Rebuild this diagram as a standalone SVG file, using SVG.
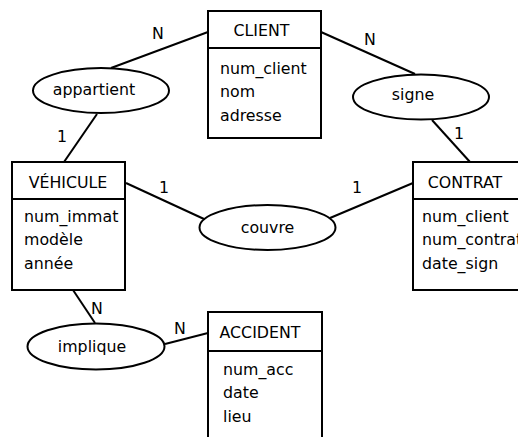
<svg xmlns="http://www.w3.org/2000/svg" width="518" height="437" viewBox="0 0 518 437">
  <style>
    text { font-family: "DejaVu Sans", "Liberation Sans", sans-serif; font-size: 15.8px; fill: #000; }
    .title { text-anchor: middle; }
    .card { text-anchor: middle; }
    .box { fill: #fff; stroke: #000; stroke-width: 2; }
    .rel { fill: #fff; stroke: #000; stroke-width: 2; }
    .link { stroke: #000; stroke-width: 2; fill: none; }
  </style>
  <rect width="518" height="437" fill="#fff"/>

  <!-- connectors -->
  <g id="connectors">
    <line class="link" x1="208" y1="32" x2="111" y2="68"/>
    <line class="link" x1="97" y1="114" x2="64" y2="162"/>
    <line class="link" x1="321" y1="32" x2="415" y2="74"/>
    <line class="link" x1="432" y1="120" x2="470" y2="162"/>
    <line class="link" x1="126" y1="183" x2="204" y2="219"/>
    <line class="link" x1="330" y1="218" x2="413" y2="183"/>
    <line class="link" x1="73" y1="290" x2="95" y2="323"/>
    <line class="link" x1="165" y1="344" x2="208" y2="333"/>
    <text class="card" x="158" y="39">N</text>
    <text class="card" x="62" y="142">1</text>
    <text class="card" x="370" y="45">N</text>
    <text class="card" x="459" y="139">1</text>
    <text class="card" x="164" y="193">1</text>
    <text class="card" x="357" y="193">1</text>
    <text class="card" x="97" y="314">N</text>
    <text class="card" x="180" y="334">N</text>
  </g>

  <!-- entities -->
  <g id="client">
    <rect class="box" x="208" y="11" width="113" height="127"/>
    <line class="link" x1="208" y1="48" x2="321" y2="48"/>
    <text class="title" x="261.5" y="36">CLIENT</text>
    <text x="220" y="74">num_client</text>
    <text x="220" y="97">nom</text>
    <text x="220" y="121">adresse</text>
  </g>

  <g id="vehicule">
    <rect class="box" x="12" y="162" width="113" height="128"/>
    <line class="link" x1="12" y1="199" x2="125" y2="199"/>
    <text class="title" x="68" y="188">VÉHICULE</text>
    <text x="24" y="222">num_immat</text>
    <text x="24" y="245">modèle</text>
    <text x="24" y="269">année</text>
  </g>

  <g id="contrat">
    <rect class="box" x="413" y="162" width="113" height="128"/>
    <line class="link" x1="413" y1="199" x2="526" y2="199"/>
    <text class="title" x="465" y="188">CONTRAT</text>
    <text x="422" y="222">num_client</text>
    <text x="422" y="245">num_contrat</text>
    <text x="422" y="269">date_sign</text>
  </g>

  <g id="accident">
    <rect class="box" x="208" y="312" width="114" height="140"/>
    <line class="link" x1="208" y1="351" x2="322" y2="351"/>
    <text class="title" x="260" y="338">ACCIDENT</text>
    <text x="223" y="375">num_acc</text>
    <text x="223" y="398">date</text>
    <text x="223" y="422">lieu</text>
  </g>

  <!-- relationships -->
  <g id="appartient">
    <ellipse class="rel" cx="101" cy="90.5" rx="68" ry="22.5"/>
    <text class="title" x="94" y="95">appartient</text>
  </g>
  <g id="signe">
    <ellipse class="rel" cx="421" cy="97" rx="68" ry="22.5"/>
    <text class="title" x="413" y="100">signe</text>
  </g>
  <g id="couvre">
    <ellipse class="rel" cx="267.5" cy="227.5" rx="68" ry="22.5"/>
    <text class="title" x="267.5" y="233">couvre</text>
  </g>
  <g id="implique">
    <ellipse class="rel" cx="96" cy="346.5" rx="68.5" ry="23"/>
    <text class="title" x="92" y="352">implique</text>
  </g>
</svg>
